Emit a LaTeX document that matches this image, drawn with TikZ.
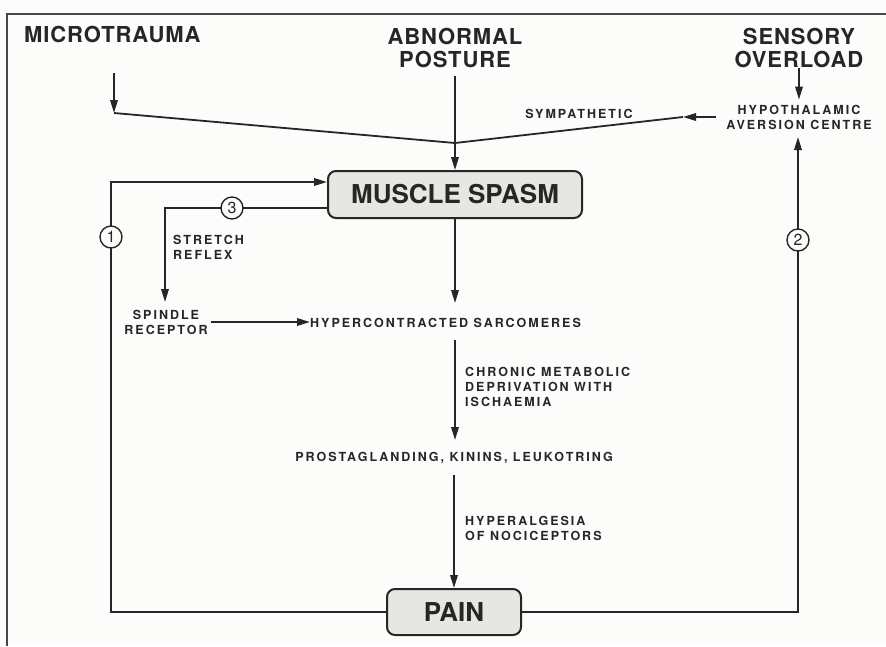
\documentclass[tikz,border=0pt]{standalone}
\usepackage{fontspec}
\setmainfont{TeX Gyre Heros}
\newfontfamily\bigf[LetterSpace=4]{TeX Gyre Heros}
\newfontfamily\smallf[LetterSpace=16, Extension=.otf, UprightFont=*-bold]{texgyreheros}
\usetikzlibrary{arrows.meta}
\definecolor{ink}{HTML}{262626}
\definecolor{boxfill}{HTML}{E6E6E3}
\definecolor{paper}{HTML}{FCFCFA}
\begin{document}
\begin{tikzpicture}[x=1pt,y=-1pt,
  line/.style={draw=ink, line width=1.8pt},
  arr/.style={line, -{Triangle[length=13pt,width=7.5pt]}},
  big/.style={text=ink, font=\bigf\bfseries\fontsize{22}{22.5}\selectfont, align=center, inner sep=0pt},
  small/.style={text=ink, font=\smallf\fontsize{12.5}{15}\selectfont, align=left, inner sep=0pt},
  mainbox/.style={draw=ink, line width=2pt, rounded corners=8pt, fill=boxfill, text=ink, font=\bfseries\fontsize{26}{26}\selectfont, inner sep=0pt},
  num/.style={circle, draw=ink, line width=1.4pt, fill=paper, minimum size=22pt, inner sep=0pt, font=\fontsize{16}{16}\selectfont, text=ink}]
\fill[paper] (0,0) rectangle (886,646);
\useasboundingbox (0,0) rectangle (886,646);
\draw[ink!85, line width=1.5pt] (886,14) -- (7,14) -- (7,646);

% nodes
\node[big, anchor=west] (micro) at (24,34) {MICROTRAUMA};
\node[big] (abn) at (455,48) {ABNORMAL\\POSTURE};
\node[big] (sens) at (799,48) {SENSORY\\OVERLOAD};
\node[small, align=center] (hyp) at (799,117) {HYPOTHALAMIC\\AVERSION CENTRE};
\node[small, anchor=base] (symp) at (579,118) {SYMPATHETIC};
\node[mainbox, minimum width=254pt, minimum height=47pt] (spasm) at (455,194.5) {MUSCLE SPASM};
\node[mainbox, minimum width=134pt, minimum height=46pt] (pain) at (454,612) {PAIN};
\node[small, align=center] (spindle) at (166,322) {SPINDLE\\RECEPTOR};
\node[small, anchor=west] (stretch) at (173,247.5) {STRETCH\\REFLEX};
\node[small, anchor=base west] (sarc) at (310,327.5) {HYPERCONTRACTED SARCOMERES};
\node[small, anchor=west] (chronic) at (465,387) {CHRONIC METABOLIC\\DEPRIVATION WITH\\ISCHAEMIA};
\node[small, anchor=base east] (prost) at (613,461.5) {PROSTAGLANDING, KININS, LEUKOTRING};
\node[small, anchor=west] (hyper) at (465,528.5) {HYPERALGESIA\\OF NOCICEPTORS};

% coordinates
\coordinate (mtop) at (114,73);
\coordinate (mbend) at (114,113);
\coordinate (join) at (455,143);
\coordinate (hw) at (716,117);
\coordinate (ht) at (683,117);
\coordinate (L1b) at (111,612);
\coordinate (L1t) at (111,182);
\coordinate (L3a) at (165,208);
\coordinate (L3b) at (165,302);
\coordinate (L2b) at (798,612);
\coordinate (L2t) at (798,137);

% connectors
\draw[arr] (mtop) -- (mbend);
\draw[line] (mbend) -- (join);
\draw[arr] ([yshift=-8pt]abn.south) -- (spasm.north);
\draw[arr] (sens.south) -- ([yshift=5pt]hyp.north);
\draw[arr] (hw) -- (ht);
\draw[line] (ht) -- (join);
\draw[arr] (spasm.south) -- (spasm.south |- 0,303);
\draw[arr] (spasm.south |- 0,340) -- (spasm.south |- 0,440);
\draw[arr] (pain.north |- 0,475) -- (pain.north);
\draw[arr] (pain.west) -- (L1b) -- (L1t) -- (spasm.west |- L1t);
\draw[arr] (spasm.west |- L3a) -- (L3a) -- (L3b);
\draw[arr] ([xshift=3pt]spindle.east) -- (sarc.west |- spindle.east);
\draw[arr] (pain.east) -- (L2b) -- (L2t);

% numbered circles
\node[num] (n1) at (111,237) {1};
\node[num] (n3) at (232,208) {3};
\node[num] (n2) at (798,240) {2};
\end{tikzpicture}
\end{document}
